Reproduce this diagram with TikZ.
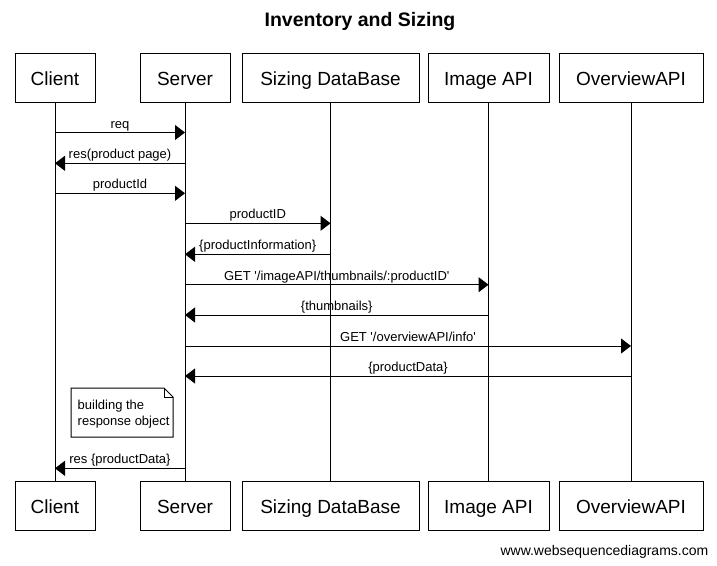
\documentclass[tikz,border=0pt]{standalone}
\usepackage{fontspec}
\setmainfont{Liberation Sans}
\usetikzlibrary{arrows.meta}
\newcommand{\sq}{\textquotesingle}
\begin{document}
\begin{tikzpicture}[x=1pt,y=-1pt,
  part/.style={draw,line width=1pt,fill=white,minimum height=49pt,inner sep=0pt,
    text height=16pt,text depth=0pt,font=\fontsize{19}{22}\selectfont},
  life/.style={line width=1pt},
  msg/.style={line width=1pt,-{Triangle[length=10pt,width=15pt]}},
  lbl/.style={font=\fontsize{13}{15}\selectfont,inner sep=0pt,anchor=base,yshift=4.5pt},
  notebox/.style={line width=1pt,fill=white},
]
\useasboundingbox (0,0) rectangle (717,565);
\node[font=\bfseries\fontsize{19.5}{22}\selectfont] (title) at (360,21) {Inventory and Sizing};

% top participants
\node[part,minimum width=80pt]  (cT) at (55,77.5)    {Client};
\node[part,minimum width=90pt]  (sT) at (185,77.5)   {Server};
\node[part,minimum width=177pt] (dT) at (330.5,77.5) {Sizing DataBase};
\node[part,minimum width=121pt] (iT) at (488.5,77.5) {Image API};
\node[part,minimum width=144pt] (oT) at (631,77.5)   {OverviewAPI};
% bottom participants
\node[part,minimum width=80pt]  (cB) at (55,505.5)    {Client};
\node[part,minimum width=90pt]  (sB) at (185,505.5)   {Server};
\node[part,minimum width=177pt] (dB) at (330.5,505.5) {Sizing DataBase};
\node[part,minimum width=121pt] (iB) at (488.5,505.5) {Image API};
\node[part,minimum width=144pt] (oB) at (631,505.5)   {OverviewAPI};

% lifelines
\draw[life] (cT) -- (cB);
\draw[life] (sT) -- (sB);
\draw[life] (dT) -- (dB);
\draw[life] (iT) -- (iB);
\draw[life] (oT) -- (oB);

% messages
\draw[msg] (cT |- 0,132.5) -- (sT |- 0,132.5) node[lbl,midway] {req};
\draw[msg] (sT |- 0,163.3) -- (cT |- 0,163.3) node[lbl,midway] {res(product page)};
\draw[msg] (cT |- 0,193.3) -- (sT |- 0,193.3) node[lbl,midway] {productId};
\draw[msg] (sT |- 0,223.3) -- (dT |- 0,223.3) node[lbl,midway] {productID};
\draw[msg] (dT |- 0,254.3) -- (sT |- 0,254.3) node[lbl,midway] {\{productInformation\}};
\draw[msg] (sT |- 0,284.7) -- (iT |- 0,284.7) node[lbl,midway] {GET \sq/imageAPI/thumbnails/:productID\sq};
\draw[msg] (iT |- 0,315) -- (sT |- 0,315) node[lbl,midway] {\{thumbnails\}};
\draw[msg] (sT |- 0,346) -- (oT |- 0,346) node[lbl,midway] {GET \sq/overviewAPI/info\sq};
\draw[msg] (oT |- 0,376) -- (sT |- 0,376) node[lbl,midway] {\{productData\}};

% note
\draw[notebox] (71,388) -- (164,388) -- (173,397) -- (173,437) -- (71,437) -- cycle;
\draw[line width=1pt] (164,388) -- (164,397) -- (173,397);
\node[anchor=north west,inner sep=0pt,align=left,font=\fontsize{13}{16.4}\selectfont] (note) at (77.5,399.8) {building the\\response object};

\draw[msg] (sT |- 0,468.3) -- (cT |- 0,468.3) node[lbl,midway] {res \{productData\}};

\node[anchor=east,inner sep=0pt,font=\fontsize{14}{16}\selectfont] (wm) at (708.5,552) {www.websequencediagrams.com};
\end{tikzpicture}
\end{document}
